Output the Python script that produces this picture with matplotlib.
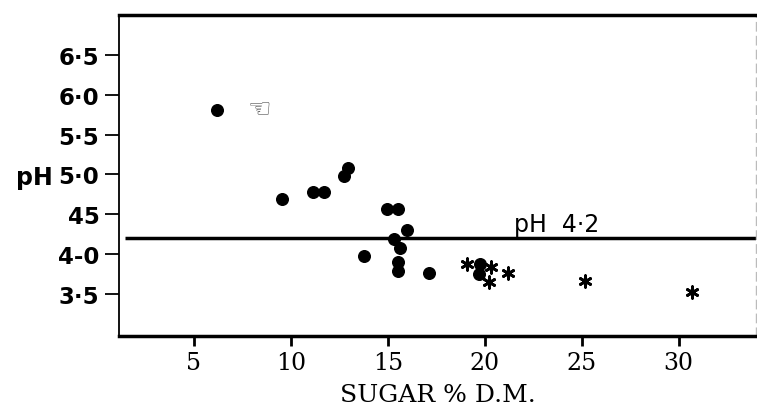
import numpy as np
import matplotlib.pyplot as plt

# pH against sugar content
dot_sugar = [6.2, 9.55, 11.15, 11.7, 12.75, 12.95, 14.95, 15.55, 16.0, 15.3,
             15.65, 13.75, 15.55, 15.55, 17.1, 19.75, 19.7]
dot_ph = [5.81, 4.69, 4.78, 4.78, 4.98, 5.08, 4.57, 4.57, 4.30, 4.19,
          4.07, 3.97, 3.90, 3.79, 3.76, 3.88, 3.75]

star_sugar = [19.1, 20.3, 20.2, 21.2, 25.15, 30.7]
star_ph = [3.87, 3.84, 3.65, 3.76, 3.66, 3.52]

odd_sugar = [8.4]
odd_ph = [5.81]

critical_ph = 4.2

yticks = [6.5, 6.0, 5.5, 5.0, 4.5, 4.0, 3.5]
yticklabels = ['6·5', '6·0', '5·5', '5·0', '45', '4-0', '3·5']
xticks = [5, 10, 15, 20, 25, 30]

fig = plt.figure(figsize=(7.57, 4.14), dpi=100)
ax = fig.add_axes([0.157, 0.186, 0.842, 0.775])

ax.scatter(dot_sugar, dot_ph, s=70, color='black', zorder=3)
ax.scatter(star_sugar, star_ph, s=70, marker=(6, 2, 0), color='black',
           linewidths=2, zorder=3)
for x, y in zip(odd_sugar, odd_ph):
    ax.text(x, y, '\u261c', fontsize=19, color='#555555', ha='center',
            va='center', family='DejaVu Sans')

ax.plot([1.45, 34.1], [critical_ph, critical_ph], color='black', lw=2.5,
        solid_capstyle='butt')
ax.text(21.5, critical_ph + 0.03, 'pH  4·2', fontsize=17, ha='left',
        va='bottom', family='DejaVu Sans')

ax.set_xlim(1.13, 34.0)
ax.set_ylim(2.97, 7.0)

ax.set_yticks(yticks)
ax.set_yticklabels(yticklabels, fontsize=16.5, fontweight='bold',
                   family='DejaVu Sans')
ax.set_xticks(xticks)
ax.set_xticklabels([str(t) for t in xticks], fontsize=17,
                   family='DejaVu Serif')
ax.tick_params(axis='y', length=10, width=1.3, pad=4)
ax.tick_params(axis='x', length=7, width=2, pad=4)

ax.spines['top'].set_linewidth(2.5)
ax.spines['bottom'].set_linewidth(2.5)
ax.spines['left'].set_linewidth(1.3)
ax.spines['right'].set_linewidth(1)
ax.spines['right'].set_color('#bbbbbb')
ax.spines['right'].set_linestyle((0, (6, 4)))

fig.text(0.045, 0.57, 'pH', fontsize=17, fontweight='bold', ha='center',
         va='center', family='DejaVu Sans')
fig.text(0.579, 0.045, 'SUGAR % D.M.', fontsize=18, ha='center',
         va='center', family='DejaVu Serif')

fig.savefig('out.png', dpi=100)
